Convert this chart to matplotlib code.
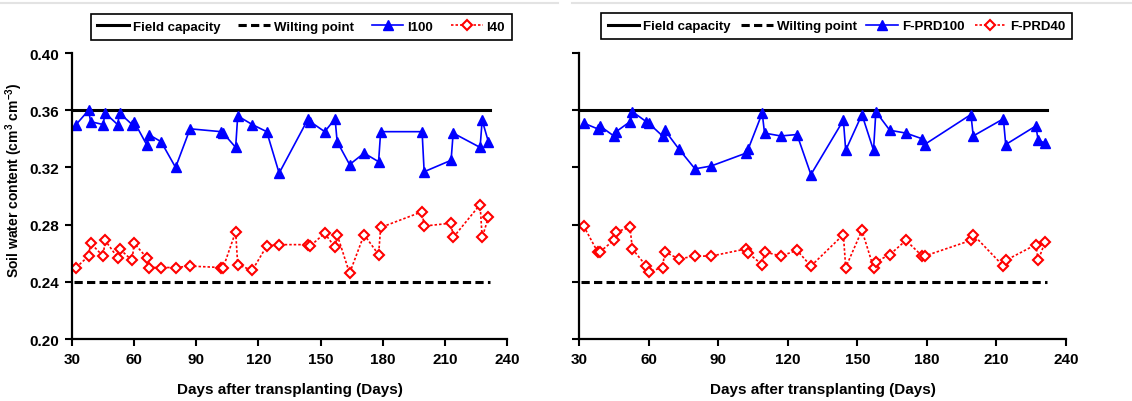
import numpy as np
import matplotlib
matplotlib.use("Agg")
import matplotlib.pyplot as plt
from matplotlib.lines import Line2D

plt.rcParams['font.family'] = ['Liberation Sans', 'DejaVu Sans']
plt.rcParams['font.weight'] = 'bold'
plt.rcParams['mathtext.fontset'] = 'custom'
plt.rcParams['mathtext.rm'] = 'Liberation Sans:bold'
plt.rcParams['mathtext.default'] = 'rm'

# sampling days (days after transplanting)
days = [32, 38, 39, 45, 46, 52, 53, 59, 60, 66, 67, 73, 80, 87, 102, 103, 109, 110, 117,
        124, 130, 144, 145, 152, 157, 158, 164, 171, 178, 179, 199, 200, 213, 214, 227, 228, 231]

field_capacity = 0.36
wilting_point = 0.24

# soil water content, cm3 cm-3
i100 = [0.350, 0.360, 0.352, 0.350, 0.358, 0.350, 0.358, 0.350, 0.352, 0.336, 0.343, 0.338,
        0.320, 0.347, 0.345, 0.344, 0.334, 0.356, 0.350, 0.345, 0.316, 0.354, 0.352, 0.345,
        0.354, 0.338, 0.322, 0.330, 0.324, 0.345, 0.345, 0.317, 0.325, 0.344, 0.334, 0.353, 0.338]
i40 = [0.250, 0.258, 0.267, 0.258, 0.269, 0.257, 0.263, 0.255, 0.267, 0.257, 0.250, 0.250,
       0.250, 0.251, 0.250, 0.250, 0.275, 0.252, 0.248, 0.265, 0.266, 0.266, 0.265, 0.274,
       0.264, 0.273, 0.246, 0.273, 0.259, 0.278, 0.289, 0.279, 0.281, 0.271, 0.294, 0.271, 0.285]
fprd100 = [0.351, 0.347, 0.349, 0.342, 0.345, 0.352, 0.359, 0.352, 0.351, 0.342, 0.346, 0.333,
           0.319, 0.321, 0.330, 0.333, 0.358, 0.344, 0.342, 0.343, 0.315, 0.353, 0.332, 0.357,
           0.332, 0.359, 0.346, 0.344, 0.340, 0.336, 0.357, 0.342, 0.354, 0.336, 0.349, 0.339, 0.337]
fprd40 = [0.279, 0.261, 0.261, 0.269, 0.275, 0.278, 0.263, 0.251, 0.247, 0.250, 0.261, 0.256,
          0.258, 0.258, 0.263, 0.260, 0.252, 0.261, 0.258, 0.262, 0.251, 0.273, 0.250, 0.276,
          0.250, 0.254, 0.259, 0.269, 0.258, 0.258, 0.269, 0.273, 0.251, 0.255, 0.266, 0.255, 0.268]

panels = [
    (["I100", "I40"], i100, i40, [0.0636, 0.1542, 0.3843, 0.7114], (0.080, 0.897, 0.372, 0.065)),
    (["F-PRD100", "F-PRD40"], fprd100, fprd40, [0.5115, 0.1542, 0.4302, 0.7114], (0.531, 0.899, 0.416, 0.065)),
]

fig = plt.figure(figsize=(11.32, 4.02), dpi=100)

# thin gray rule along the top of each panel
fig.add_artist(Line2D([0.0, 0.493], [0.99, 0.99], color='#e3e3e3', lw=1.5))
fig.add_artist(Line2D([0.505, 1.0], [0.99, 0.99], color='#e3e3e3', lw=1.5))

line_span = [31, 232]

for i, (names, full, deficit, pos, leg_box) in enumerate(panels):
    ax = fig.add_axes(pos)
    ax.plot(line_span, [field_capacity] * 2, color='black', lw=2.2, label='Field capacity')
    ax.plot(line_span, [wilting_point] * 2, color='black', lw=2.2, dashes=(2.7, 1.4),
            label='Wilting point')
    ax.plot(days, full, color='blue', lw=1.2, marker='^', ms=6.5, mfc='blue', mec='blue',
            label=names[0])
    ax.plot(days, deficit, color='red', lw=1.2, dashes=(1.5, 1.2), marker='D', ms=5,
            mfc='white', mec='red', mew=1.5, label=names[1])

    ax.set_xlim(30, 240)
    ax.set_ylim(0.20, 0.40)
    ax.set_xticks(np.arange(30, 241, 30))
    ax.set_yticks(np.arange(0.20, 0.401, 0.04))
    for s in ['top', 'right']:
        ax.spines[s].set_visible(False)
    for s in ['left', 'bottom']:
        ax.spines[s].set_linewidth(1.6)
    ax.tick_params(direction='out', length=5, width=1.5, labelsize=11, pad=4)
    if i == 0:
        ax.set_yticklabels([f"{v:.2f}" for v in np.arange(0.20, 0.401, 0.04)])
        ax.set_ylabel(r'Soil water content (cm$^{3}$ cm$^{-3}$)', fontsize=10,
                      fontweight='bold')
        ax.yaxis.set_label_coords(-0.108, 0.56)
    else:
        ax.set_yticklabels([])
    ax.set_xlabel('Days after transplanting (Days)', fontsize=11, fontweight='bold', labelpad=12)

    leg = ax.legend(loc='upper left', bbox_to_anchor=leg_box, bbox_transform=fig.transFigure,
                    mode='expand', ncol=4, fontsize=9.5, frameon=True, fancybox=False,
                    edgecolor='black', framealpha=1, handlelength=2.4, handletextpad=0.3,
                    borderpad=0.5, borderaxespad=0)
    leg.get_frame().set_linewidth(1.2)

fig.savefig('out.png', dpi=100)
